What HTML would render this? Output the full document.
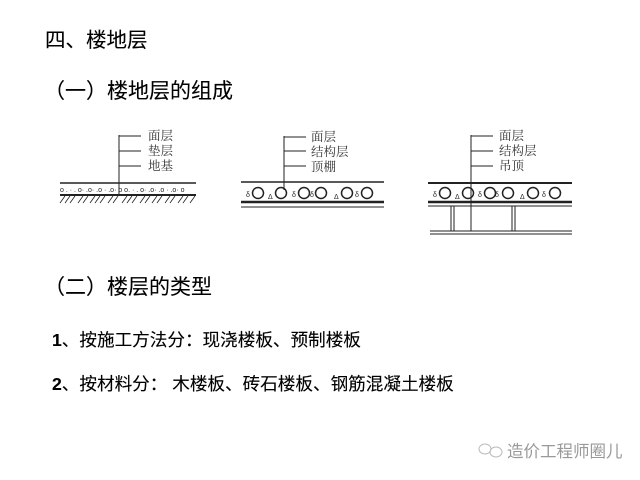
<!DOCTYPE html>
<html><head><meta charset="utf-8"><style>
html,body{margin:0;padding:0;background:#fff;}
svg{display:block;}
.s{font-family:"Liberation Sans","Noto Sans CJK SC",sans-serif;fill:#000;stroke:#000;stroke-width:0.12;}
.l{font-family:"Liberation Serif","Noto Serif CJK SC",serif;fill:#333;font-size:12.5px;}
</style></head><body>
<svg width="640" height="480" viewBox="0 0 640 480" xmlns="http://www.w3.org/2000/svg">
<text class="s" x="45" y="47" font-size="20.5">四、楼地层</text>
<text class="s" x="44" y="98" font-size="21">（一）楼地层的组成</text>
<text class="s" x="44" y="294" font-size="21">（二）楼层的类型</text>
<text class="s" x="52" y="346" font-size="17.6"><tspan font-weight="bold">1</tspan>、按施工方法分：现浇楼板、预制楼板</text>
<text class="s" x="52" y="390" font-size="17.6"><tspan font-weight="bold">2</tspan>、按材料分： 木楼板、砖石楼板、钢筋混凝土楼板</text>

<g stroke="#222" fill="none">
<line x1="119" y1="135" x2="119" y2="196"/>
<line x1="119" y1="136" x2="141" y2="136"/>
<line x1="119" y1="151" x2="141" y2="151"/>
<line x1="119" y1="166" x2="141" y2="166"/>
<line x1="60" y1="183" x2="196" y2="183" stroke-width="1.5"/>
<line x1="60" y1="195" x2="196" y2="195" stroke-width="2"/>
<path d="M60 203 l5 -7 M65 203 l5 -7 M70 203 l5 -7 M78 203 l5 -7 M83 203 l5 -7 M90 203 l5 -7 M95 203 l5 -7 M100 203 l5 -7 M108 203 l5 -7 M113 203 l5 -7 M122 203 l5 -7 M127 203 l5 -7 M132 203 l5 -7 M140 203 l5 -7 M145 203 l5 -7 M152 203 l5 -7 M157 203 l5 -7 M165 203 l5 -7 M170 203 l5 -7 M178 203 l5 -7 M183 203 l5 -7 M190 203 l5 -7" stroke-width="0.8"/>
<line x1="284" y1="136" x2="284" y2="190"/>
<line x1="284" y1="137" x2="306" y2="137"/>
<line x1="284" y1="151" x2="306" y2="151"/>
<line x1="284" y1="166" x2="306" y2="166"/>
<line x1="241" y1="182" x2="384" y2="182" stroke-width="1.5"/>
<line x1="241" y1="202" x2="384" y2="202" stroke-width="2.5"/>
<line x1="241" y1="207" x2="384" y2="207"/>
<g stroke-width="1.5"><circle cx="258" cy="193" r="5.5"/><circle cx="281" cy="193" r="5.5"/><circle cx="304" cy="193" r="5.5"/><circle cx="321" cy="193" r="5.5"/><circle cx="347" cy="193" r="5.5"/><circle cx="367" cy="193" r="5.5"/></g>
<line x1="471" y1="135" x2="471" y2="231"/>
<line x1="471" y1="136" x2="493" y2="136"/>
<line x1="471" y1="151" x2="493" y2="151"/>
<line x1="471" y1="166" x2="493" y2="166"/>
<line x1="428" y1="183" x2="572" y2="183" stroke-width="2"/>
<line x1="428" y1="202" x2="572" y2="202" stroke-width="2.5"/>
<line x1="428" y1="206" x2="572" y2="206"/>
<line x1="451" y1="206" x2="451" y2="231"/><line x1="454" y1="206" x2="454" y2="231"/>
<line x1="512" y1="206" x2="512" y2="231"/><line x1="515" y1="206" x2="515" y2="231"/>
<line x1="430" y1="231" x2="572" y2="231"/><line x1="430" y1="234" x2="572" y2="234"/>
<g stroke-width="1.5"><circle cx="445" cy="193" r="5.5"/><circle cx="468" cy="193" r="5.5"/><circle cx="490" cy="193" r="5.5"/><circle cx="508" cy="193" r="5.5"/><circle cx="533" cy="193" r="5.5"/><circle cx="555" cy="193" r="5.5"/></g>
</g>
<g fill="#222" font-size="7" font-family="Liberation Sans,sans-serif">
<text x="60" y="192">o . · . o· .o· .o · .o· o o. · . o· .o· .o · .o· o</text>
<text x="246" y="197">&#948;</text><text x="268" y="199">&#916;</text><text x="292" y="197">&#948;</text><text x="310" y="197">&#948;</text><text x="334" y="199">&#916;</text><text x="355" y="197">&#948;</text>
<text x="433" y="197">&#948;</text><text x="455" y="199">&#916;</text><text x="478" y="197">&#948;</text><text x="495" y="197">&#948;</text><text x="520" y="199">&#916;</text><text x="542" y="197">&#948;</text>
</g>
<text class="l" x="148" y="140">面层</text><text class="l" x="148" y="155">垫层</text><text class="l" x="148" y="170">地基</text>
<text class="l" x="311" y="141">面层</text><text class="l" x="311" y="156">结构层</text><text class="l" x="311" y="171">顶棚</text>
<text class="l" x="499" y="140">面层</text><text class="l" x="499" y="155">结构层</text><text class="l" x="499" y="170">吊顶</text>
<g stroke="#bbb" fill="none"><ellipse cx="485" cy="449" rx="6" ry="5"/><ellipse cx="496" cy="452" rx="6" ry="5"/></g>
<text x="507" y="457" font-size="16.5" font-family="Liberation Sans,'Noto Sans CJK SC',sans-serif" fill="#999">造价工程师圈儿</text>
</svg>
</body></html>
